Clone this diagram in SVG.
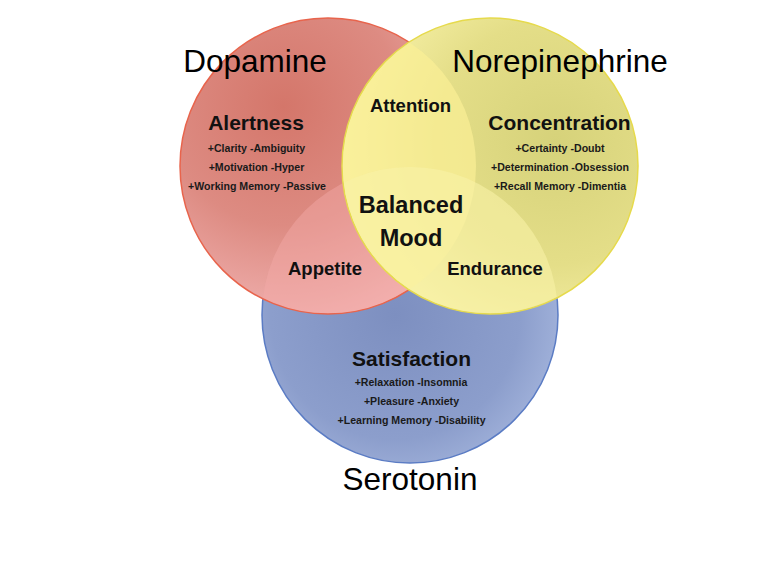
<svg xmlns="http://www.w3.org/2000/svg" width="768" height="569" viewBox="0 0 768 569">
<style>
.title{font-family:"Liberation Sans",Arial,sans-serif;font-size:31.5px;fill:#000;text-anchor:middle}
.head{font-family:"Liberation Sans",Arial,sans-serif;font-weight:bold;font-size:21px;fill:#111;text-anchor:middle}
.lab{font-family:"Liberation Sans",Arial,sans-serif;font-weight:bold;font-size:18.5px;fill:#111;text-anchor:middle}
.big{font-family:"Liberation Sans",Arial,sans-serif;font-weight:bold;font-size:23.5px;fill:#111;text-anchor:middle}
.sm{font-family:"Liberation Sans",Arial,sans-serif;font-weight:bold;font-size:10.6px;fill:#1a1a1a;text-anchor:middle}
</style>
<defs>
<radialGradient id="gRed" cx="0.35" cy="0.3" r="0.8">
<stop offset="0" stop-color="#d4766a"/>
<stop offset="0.5" stop-color="#dd8b82"/>
<stop offset="1" stop-color="#f4b8b8"/>
</radialGradient>
<radialGradient id="gYel" cx="0.72" cy="0.42" r="0.75">
<stop offset="0" stop-color="#d6d27a"/>
<stop offset="0.55" stop-color="#e4de88"/>
<stop offset="1" stop-color="#faf4ac"/>
</radialGradient>
<radialGradient id="gBlue" cx="0.45" cy="0.5" r="0.7">
<stop offset="0" stop-color="#7d8fc0"/>
<stop offset="0.6" stop-color="#8c9ecc"/>
<stop offset="1" stop-color="#b2c2e6"/>
</radialGradient>
<clipPath id="cRed"><circle cx="328" cy="166" r="148"/></clipPath>
<clipPath id="cBlue"><circle cx="410" cy="315" r="148"/></clipPath>
</defs>
<rect width="768" height="569" fill="#fff"/>
<g id="serotonin">
<circle cx="410" cy="315" r="148" fill="url(#gBlue)" stroke="#5b7cc4" stroke-width="1.5"/>
</g>
<g id="dopamine">
<circle cx="328" cy="166" r="148" fill="url(#gRed)" stroke="#e8644c" stroke-width="1.5"/>
<circle cx="328" cy="166" r="147" fill="#f4aaa8" fill-opacity="0.45" clip-path="url(#cBlue)"/>
</g>
<g id="norepinephrine">
<circle cx="490" cy="166" r="148" fill="url(#gYel)" stroke="#e6da4c" stroke-width="1.5"/>
<circle cx="490" cy="166" r="147" fill="#fbef96" fill-opacity="0.7" clip-path="url(#cRed)"/>
<circle cx="490" cy="166" r="147" fill="#f8f2a6" fill-opacity="0.6" clip-path="url(#cBlue)"/>
</g>
<g id="connectors"></g>
<g id="dopamine-text">
<text class="title" x="255" y="72">Dopamine</text>
<text class="head" x="256" y="130">Alertness</text>
<text class="sm" x="256.5" y="152">+Clarity -Ambiguity</text>
<text class="sm" x="256.5" y="171">+Motivation -Hyper</text>
<text class="sm" x="257" y="190">+Working Memory -Passive</text>
</g>
<g id="norepinephrine-text">
<text class="title" x="560" y="72">Norepinephrine</text>
<text class="head" x="559.5" y="130">Concentration</text>
<text class="sm" x="560" y="152">+Certainty -Doubt</text>
<text class="sm" x="560" y="171">+Determination -Obsession</text>
<text class="sm" x="560" y="190">+Recall Memory -Dimentia</text>
</g>
<g id="serotonin-text">
<text class="head" x="411.5" y="366">Satisfaction</text>
<text class="sm" x="411" y="386">+Relaxation -Insomnia</text>
<text class="sm" x="411.5" y="405">+Pleasure -Anxiety</text>
<text class="sm" x="411.5" y="424">+Learning Memory -Disability</text>
<text class="title" x="410" y="490">Serotonin</text>
</g>
<g id="attention"><text class="lab" x="410.5" y="112">Attention</text></g>
<g id="appetite"><text class="lab" x="325" y="275">Appetite</text></g>
<g id="endurance"><text class="lab" x="495" y="275">Endurance</text></g>
<g id="balanced-mood">
<text class="big" x="411" y="213">Balanced</text>
<text class="big" x="411" y="246">Mood</text>
</g>
</svg>
